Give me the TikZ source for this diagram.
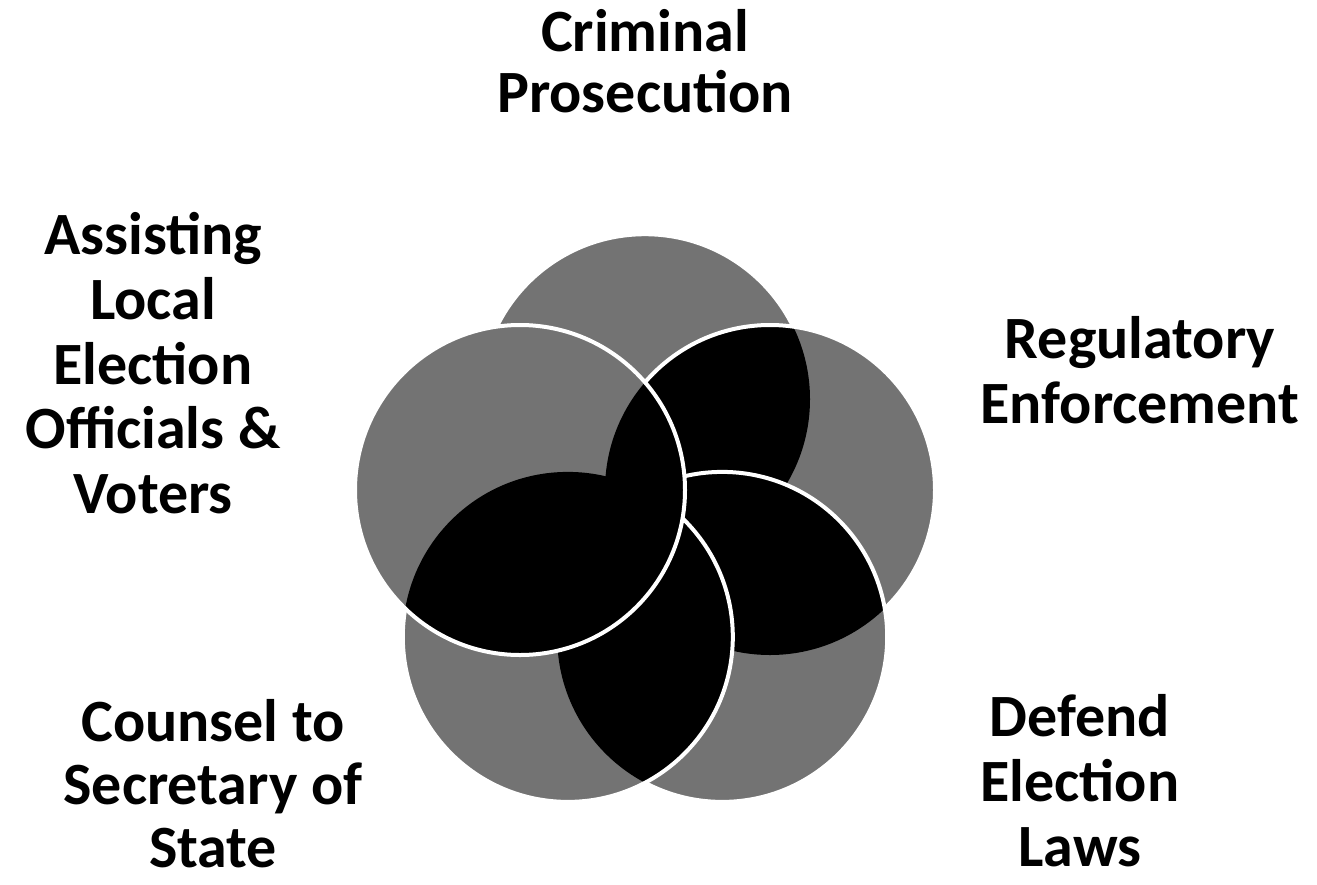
\documentclass[tikz,border=0pt]{standalone}
\usepackage{fontspec}
\setmainfont{Carlito}
\definecolor{discgray}{gray}{0.45}
\begin{document}
\begin{tikzpicture}[x=0.5pt,y=-0.5pt,
  disc/.style={fill=discgray},
  overlap/.style={fill=black},
  rim/.style={draw=white,line width=2pt},
  lbl/.style={font=\bfseries\fontsize{30pt}{#1}\selectfont, align=center, inner sep=0pt, anchor=north}]
\useasboundingbox (0,0) rectangle (1317,884);
\def\rad{82.5pt}
\coordinate (cT)  at (645,399.2);
\coordinate (cR)  at (770,490);
\coordinate (cBR) at (722.2,636.9);
\coordinate (cBL) at (567.8,636.9);
\coordinate (cL)  at (520,490);
% top circle
\fill[disc] (cT) circle[radius=\rad];
\draw[rim] (cT) circle[radius=\rad];
% right circle
\fill[disc] (cR) circle[radius=\rad];
\begin{scope}
  \clip (cR) circle[radius=\rad];
  \fill[overlap] (cT) circle[radius=\rad];
\end{scope}
\draw[rim] (cR) circle[radius=\rad];
% bottom-right circle
\fill[disc] (cBR) circle[radius=\rad];
\begin{scope}
  \clip (cBR) circle[radius=\rad];
  \fill[overlap] (cR) circle[radius=\rad];
\end{scope}
\draw[rim] (cBR) circle[radius=\rad];
% bottom-left circle
\fill[disc] (cBL) circle[radius=\rad];
\begin{scope}
  \clip (cBL) circle[radius=\rad];
  \fill[overlap] (cBR) circle[radius=\rad];
  \fill[overlap] (cR) circle[radius=\rad];
\end{scope}
\draw[rim] (cBL) circle[radius=\rad];
% left circle
\fill[disc] (cL) circle[radius=\rad];
\begin{scope}
  \clip (cL) circle[radius=\rad];
  \fill[overlap] (cBL) circle[radius=\rad];
  \fill[overlap] (cR) circle[radius=\rad];
\end{scope}
\draw[rim] (cL) circle[radius=\rad];
% labels
\node[lbl=30.5pt] (crim)   at (645,9)    {Criminal\\Prosecution};
\node[lbl=32.4pt] (assist) at (153,212)  {Assisting\\Local\\Election\\Officials \&\\Voters};
\node[lbl=32.5pt] (reg)    at (1140,316) {Regulatory\\Enforcement};
\node[lbl=31.5pt] (couns)  at (213,699)  {Counsel to\\Secretary of\\State};
\node[lbl=32.5pt] (defend) at (1080,694) {Defend\\Election\\Laws};
\end{tikzpicture}
\end{document}
